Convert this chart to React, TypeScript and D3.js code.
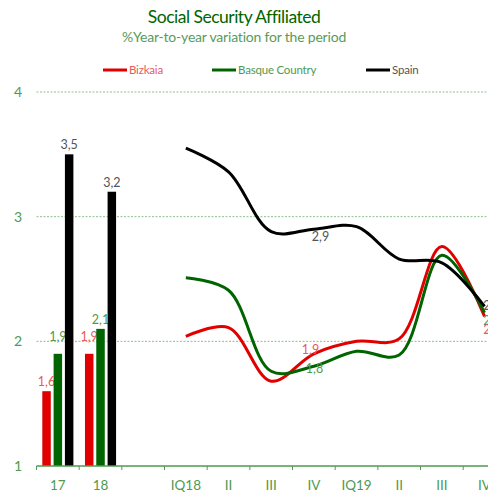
import React from "react";
import * as d3 from "d3";

const categories = ["17", "18", "", "IQ18", "II", "III", "IV", "IQ19", "II", "III", "IV"];
const barCats = ["17", "18"];
const seriesNames = ["Bizkaia", "Basque Country", "Spain"];
const barBizkaia = [1.6, 1.9];
const barBasque = [1.9, 2.1];
const barSpain = [3.5, 3.2];
const lineCats = [3, 4, 5, 6, 7, 8, 9, 10];
const lineBizkaia = [2.04, 2.11, 1.68, 1.9, 2.0, 2.02, 2.76, 2.2];
const lineBasque = [2.51, 2.41, 1.76, 1.8, 1.92, 1.89, 2.69, 2.23];
const lineSpain = [3.55, 3.36, 2.88, 2.9, 2.92, 2.66, 2.63, 2.28];
const yTicks = [1, 2, 3, 4];

const colors = ["#e00000", "#006400", "#000000"];
const labelColors = ["#e85a5a", "#4f9a4f", "#555555"];

const fmt = (v: number) => v.toFixed(1).replace(".", ",");

export default function App() {
  const W = 488, H = 492;
  const x0 = 36.5;
  const step = 42.67;
  const x = d3.scaleBand<number>().domain(d3.range(categories.length)).range([x0, x0 + step * categories.length]).paddingInner(0).paddingOuter(0);
  const y = d3.scaleLinear().domain([1, 4]).range([466, 92]);
  const xs = d3.scaleBand<number>().domain([0, 1, 2]).range([5.8, 36.9]).paddingInner(0.25).paddingOuter(0);
  const barData = [barBizkaia, barBasque, barSpain];
  const lineData = [lineBizkaia, lineBasque, lineSpain];
  const line = d3.line<number>()
    .x((_, i) => (x(lineCats[i]) as number) + x.bandwidth() / 2)
    .y((v) => y(v))
    .curve(d3.curveCatmullRom.alpha(0.5));
  const font = "Lato, 'Open Sans', sans-serif";
  const legendX = [103, 212, 366];
  return (
    <svg width={W} height={H} style={{ position: "absolute", left: 0, top: 0 }} fontFamily={font}>
      <rect width={W} height={H} fill="#fff" />
      <text x={234} y={23} textAnchor="middle" fontSize={17.5} fill="#006400" letterSpacing={-0.5}>Social Security Affiliated</text>
      <text x={234} y={42} textAnchor="middle" fontSize={14} fill="#5a9a5a" letterSpacing={-0.2}>%Year-to-year variation for the period</text>
      {seriesNames.map((n, i) => (
        <g key={n}>
          <line x1={legendX[i]} x2={legendX[i] + 24} y1={70} y2={70} stroke={colors[i]} strokeWidth={3} />
          <text x={legendX[i] + 26} y={74} fontSize={11.5} fill={labelColors[i]} letterSpacing={-0.2}>{n}</text>
        </g>
      ))}
      {yTicks.map((t) => (
        <g key={t}>
          {t > 1 && <line x1={x0} x2={W} y1={y(t)} y2={y(t)} stroke="#8cc08c" strokeWidth={1} strokeDasharray="2,1.5" />}
          <text x={18} y={y(t) + 5} textAnchor="middle" fontSize={14} fill="#4f9a4f">{t}</text>
        </g>
      ))}
      {barCats.map((c, ci) =>
        barData.map((s, si) => {
          const bx = (x(ci) as number) + (xs(si) as number);
          const v = s[ci];
          const lift = Math.abs(v - 1.9) < 0.01 ? 13 : 5;
          return (
            <g key={c + si}>
              <rect x={bx} y={y(v)} width={xs.bandwidth()} height={y(1) - y(v)} fill={colors[si]} />
              <text x={bx + xs.bandwidth() / 2} y={y(v) - lift} textAnchor="middle" fontSize={12.5} fill={labelColors[si]}>{fmt(v)}</text>
            </g>
          );
        })
      )}
      {lineData.map((s, si) => (
        <path key={si} d={line(s) || ""} fill="none" stroke={colors[si]} strokeWidth={3} />
      ))}
      {/* data labels */}
      <text x={(x(6) as number) + 28} y={y(lineSpain[3]) + 12} textAnchor="middle" fontSize={12.5} fill={labelColors[2]}>{fmt(lineSpain[3])}</text>
      <text x={(x(6) as number) + 18} y={y(lineBizkaia[3]) + 0} textAnchor="middle" fontSize={12.5} fill={labelColors[0]}>{fmt(lineBizkaia[3])}</text>
      <text x={(x(6) as number) + 22} y={y(lineBasque[3]) + 7} textAnchor="middle" fontSize={12.5} fill={labelColors[1]}>{fmt(lineBasque[3])}</text>
      <text x={(x(10) as number) + 20} y={y(lineSpain[7]) + 4} fontSize={12.5} fill={labelColors[2]}>{fmt(lineSpain[7])}</text>
      <text x={(x(10) as number) + 20} y={y(lineBasque[7]) + 12} fontSize={12.5} fill={labelColors[1]}>{fmt(lineBasque[7])}</text>
      <text x={(x(10) as number) + 20} y={y(lineBizkaia[7]) + 18} fontSize={12.5} fill={labelColors[0]}>{fmt(lineBizkaia[7])}</text>
      {/* x axis */}
      <line x1={x0} x2={W} y1={y(1)} y2={y(1)} stroke="#4f9a4f" strokeWidth={1.5} />
      {d3.range(categories.length + 1).map((i) => (
        <line key={i} x1={x0 + i * step} x2={x0 + i * step} y1={y(1)} y2={y(1) + 4} stroke="#4f9a4f" strokeWidth={1} />
      ))}
      {categories.map((c, i) => (
        <text key={i} x={(x(i) as number) + x.bandwidth() / 2} y={y(1) + 24} textAnchor="middle" fontSize={13.5} fill="#4f9a4f">{c}</text>
      ))}
    </svg>
  );
}
